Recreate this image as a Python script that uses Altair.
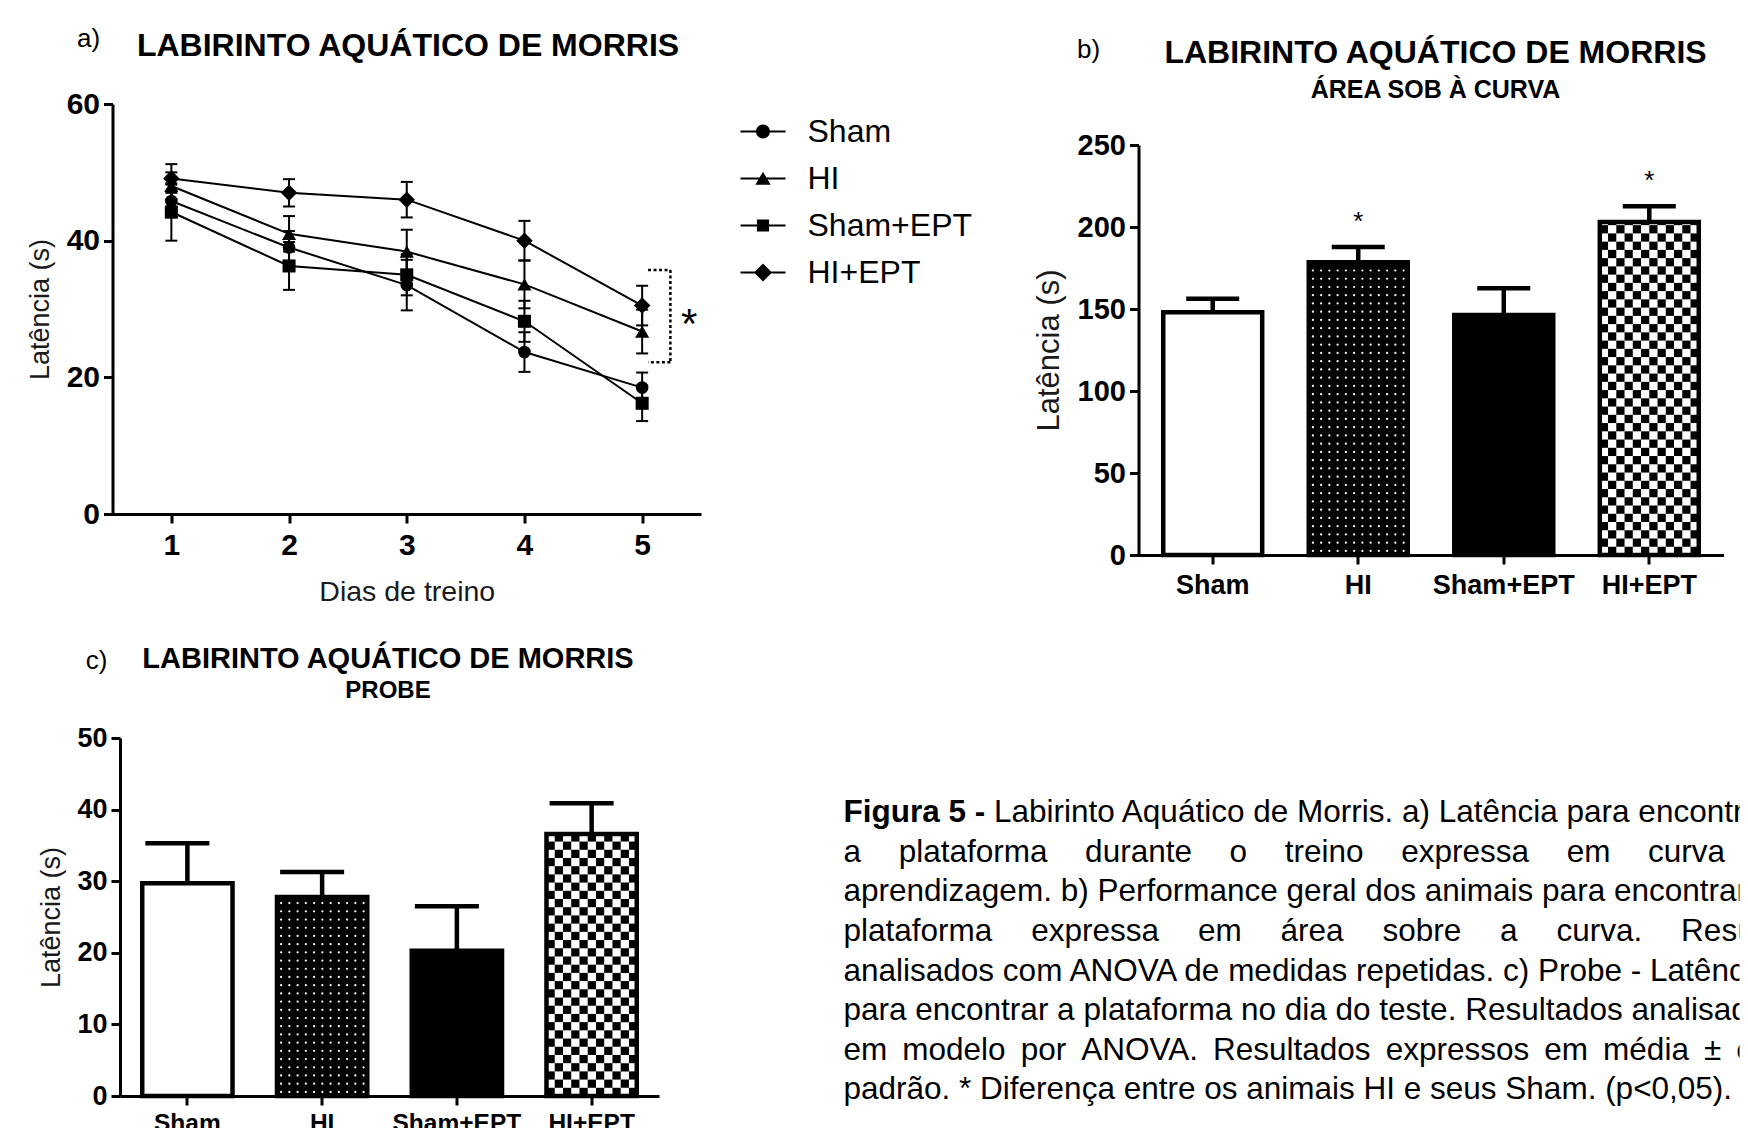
import math
import altair as alt
import pandas as pd

FONT = "Liberation Sans"

# ---------------- data ----------------
groups = ["Sham", "HI", "Sham+EPT", "HI+EPT"]
days = [1, 2, 3, 4, 5]

# a) learning curve (mean, SEM per training day)
sham_mean = [45.8, 39.0, 33.5, 23.7, 18.5]
sham_sem = [2.4, 2.4, 3.7, 2.9, 2.2]
hi_mean = [48.0, 41.0, 38.4, 33.6, 26.7]
hi_sem = [2.0, 2.6, 3.2, 3.5, 3.2]
shamept_mean = [44.2, 36.3, 35.0, 28.2, 16.2]
shamept_sem = [4.2, 3.5, 3.0, 3.0, 2.6]
hiept_mean = [49.1, 47.0, 46.0, 40.0, 30.5]
hiept_sem = [2.1, 2.0, 2.6, 2.9, 2.9]

# significance bracket on day 5 (data units) and its star
bracket_x = [5.05, 5.24, 5.24]
bracket_x2 = [5.24, 5.24, 5.05]
bracket_y = [35.7, 35.7, 22.2]
bracket_y2 = [35.7, 22.2, 22.2]
star_a_x = [5.4]
star_a_y = [28.7]

# b) area under the curve
auc_mean = [148.0, 178.5, 146.4, 203.0]
auc_sem = [8.3, 9.3, 16.3, 9.6]
auc_star = ["", "*", "", "*"]

# c) probe
probe_mean = [29.7, 27.8, 20.3, 36.6]
probe_sem = [5.6, 3.5, 6.2, 4.3]
probe_star = ["", "", "", ""]

bar_fill = ["white", "black", "black", "white"]
bar_pattern = ["none", "dots", "none", "checker"]

panel_letters = ["a)", "b)", "c)"]

NB = "\u00a0"
TH = "\u2009"
HA = "\u200a"
caption_bold = "Figura 5 -"
caption_first = "Labirinto Aquático de Morris. a) Latência para encontrar"
caption_words = [
    "a plataforma durante o treino expressa em curva de",
    "aprendizagem. b) Performance geral dos animais para encontrar a",
    "plataforma expressa em área sobre a curva. Resultados",
    "analisados com ANOVA de medidas repetidas. c) Probe - Latência",
    "para encontrar a plataforma no dia do teste. Resultados analisados",
    "em modelo por ANOVA. Resultados expressos em média ± erro",
    "padrão. * Diferença entre os animais HI e seus Sham. (p<0,05).",
]
caption_gaps = [NB * 4 + HA, " ", NB * 3 + TH * 2, " ", " ", NB + TH, " "]

# ---------------- geometry ----------------
A_W, A_H = 588.5, 410
B_W, B_H, B_X0, B_Y0 = 880, 451, 295, 41
C_W, C_H, C_X0 = 546.5, 358, 7.5
CAP_W, CAP_H = 896, 382
COL_SP, ROW_SP = 142, 183
# panel letters, placed relative to the caption cell (which has no title)
letter_px = [(-755, -699), (245, -688), (-747, -77)]

ax_style = dict(
    domainColor="black", domainWidth=3, tickColor="black", tickWidth=3, tickSize=9,
    labelColor="black", labelFont=FONT, labelFontWeight="bold",
    titleFont=FONT, titleFontWeight="normal", titleColor="#1a1a1a", grid=False,
)

# ---------------- panel a ----------------
recs = []
for g, m, s in zip(groups, [sham_mean, hi_mean, shamept_mean, hiept_mean],
                   [sham_sem, hi_sem, shamept_sem, hiept_sem]):
    for d, mv, sv in zip(days, m, s):
        recs.append({"group": g, "day": d, "mean": mv, "lo": mv - sv, "hi": mv + sv})
df_a = pd.DataFrame(recs)

a_xaxis = alt.Axis(values=days, format="d", title="Dias de treino", labelFontSize=30,
                   labelPadding=7, titleFontSize=28.5, titleX=A_W / 2, titleY=77,
                   titleBaseline="middle", titleAlign="center", **ax_style)
a_yaxis = alt.Axis(values=[0, 20, 40, 60], title="Latência (s)", labelFontSize=30,
                   labelPadding=4, titleFontSize=27, titleX=-72.5, titleY=A_H / 2,
                   titleAngle=270, titleBaseline="middle", titleAlign="center", **ax_style)
a_xs = alt.Scale(domain=[0.5, 5.5], nice=False, zero=False)
a_ys = alt.Scale(domain=[0, 60], nice=False)


def ax(f):
    return alt.X(f, type="quantitative", scale=a_xs, axis=a_xaxis)


def ay(f):
    return alt.Y(f, type="quantitative", scale=a_ys, axis=a_yaxis)


a_lines = alt.Chart(df_a).mark_line(color="black", strokeWidth=2).encode(
    x=ax("day"), y=ay("mean"), detail="group:N")
a_err = alt.Chart(df_a).mark_rule(color="black", strokeWidth=2).encode(
    x=ax("day"), y=ay("lo"), y2="hi:Q")
a_cap_lo = alt.Chart(df_a).mark_tick(orient="horizontal", size=12, thickness=2,
                                     color="black", opacity=1).encode(x=ax("day"), y=ay("lo"))
a_cap_hi = alt.Chart(df_a).mark_tick(orient="horizontal", size=12, thickness=2,
                                     color="black", opacity=1).encode(x=ax("day"), y=ay("hi"))

marker_shapes = ["circle", "triangle-up", "square", "diamond"]
marker_sizes = [160, 200, 170, 270]
a_markers = [
    alt.Chart(df_a).transform_filter(alt.datum.group == g).mark_point(
        shape=shp, filled=True, color="black", size=sz, opacity=1
    ).encode(x=ax("day"), y=ay("mean"))
    for g, shp, sz in zip(groups, marker_shapes, marker_sizes)
]

# legend glyphs: a thin filled bar (the line) plus the marker, all clockwise
LINE = "M-1,-0.045H1V0.045H-1Z"
legend_paths = [
    LINE + "M0.31,0A0.31,0.31,0,1,1,-0.31,0A0.31,0.31,0,1,1,0.31,0Z",
    LINE + "M0,-0.3L0.34,0.28L-0.34,0.28Z",
    LINE + "M-0.27,-0.27H0.27V0.27H-0.27Z",
    LINE + "M0,-0.4L0.4,0L0,0.4L-0.4,0Z",
]
a_legend = alt.Chart(pd.DataFrame({"group": groups})).mark_point(
    filled=True, color="black", opacity=1, clip=True
).encode(
    x=alt.value(-500), y=alt.value(-500),
    shape=alt.Shape("group:N", scale=alt.Scale(domain=groups, range=legend_paths),
                    legend=alt.Legend(title=None, orient="none", legendX=628, legendY=5,
                                      padding=0, rowPadding=8, labelOffset=22,
                                      symbolSize=2025, symbolStrokeWidth=0,
                                      symbolFillColor="black", symbolOpacity=1,
                                      labelFont=FONT, labelFontSize=32,
                                      labelColor="black", labelLimit=400)),
)

df_br = pd.DataFrame({"x": bracket_x, "x2": bracket_x2, "y": bracket_y, "y2": bracket_y2})
a_bracket = alt.Chart(df_br).mark_rule(color="black", strokeWidth=2.5, strokeDash=[3, 2.5]).encode(
    x=ax("x"), x2="x2:Q", y=ay("y"), y2="y2:Q")
a_star = alt.Chart(pd.DataFrame({"x": star_a_x, "y": star_a_y, "t": ["*"]})).mark_text(
    font=FONT, fontSize=42, baseline="alphabetic", dy=20, color="black"
).encode(x=ax("x"), y=ay("y"), text="t:N")

chart_a = alt.layer(
    a_lines, a_err, a_cap_lo, a_cap_hi, *a_markers, a_legend, a_bracket, a_star,
).properties(
    width=A_W, height=A_H,
    title=alt.TitleParams(text="LABIRINTO AQUÁTICO DE MORRIS", font=FONT, fontSize=32,
                          fontWeight="bold", color="black", anchor="middle", frame="group",
                          offset=26, dx=1.25),
)


# ---------------- bar panels ----------------
def band_bw(range_px, n, pi, po):
    step = range_px / (n - pi + 2 * po)
    return step * (1 - pi)


def pattern_frames(means, bw_px, ppu, n_cols):
    h = (bw_px / n_cols) / ppu
    dots, cells = [], []
    for g, v, p in zip(groups, means, bar_pattern):
        if p == "dots":
            r = 0
            while (r + 0.5) * h < v - 0.4 * h:
                for j in range(n_cols):
                    dots.append({"group": g, "col": j, "y": (r + 0.5) * h})
                r += 1
        elif p == "checker":
            nrows = math.ceil(v / h)
            for r in range(nrows):
                for j in range(n_cols):
                    if (r + j + nrows) % 2 == 0:
                        cells.append({"group": g, "col": j, "y": r * h,
                                      "y2": min((r + 1) * h, v)})
    return pd.DataFrame(dots), pd.DataFrame(cells)


def bar_panel(means, sems, stars, *, width, height, x0, y_top, pi, po, ymax, yvals,
              n_cols, cap_w, cap_dx, stroke_w, label_fs, label_pad, tick_fs, ytitle_fs,
              ytitle_x, title_fs, sub_fs, subtitle, title_offset, sub_pad, title_dx,
              star_fs, star_dy):
    plot_w = width - x0
    plot_h = height - y_top
    bw = band_bw(plot_w, 4, pi, po)
    ppu = plot_h / ymax
    df = pd.DataFrame({"group": groups, "value": means,
                       "top": [m + s for m, s in zip(means, sems)],
                       "star": stars, "fill": bar_fill})
    dots, cells = pattern_frames(means, bw, ppu, n_cols)
    xs = alt.Scale(domain=groups, range=[x0, width], paddingInner=pi, paddingOuter=po)
    ys = alt.Scale(domain=[0, ymax], range=[height, y_top], nice=False, zero=True)
    xaxis = alt.Axis(title=None, labelAngle=0, labelFontSize=label_fs, labelPadding=label_pad,
                     **ax_style)
    yaxis = alt.Axis(values=yvals, offset=-x0, title="Latência (s)", labelFontSize=tick_fs,
                     labelPadding=4, titleFontSize=ytitle_fs, titleX=ytitle_x,
                     titleY=y_top + plot_h / 2, titleAngle=270, titleBaseline="middle",
                     titleAlign="center", **ax_style)
    X = alt.X("group:N", sort=groups, scale=xs, axis=xaxis)

    def Y(f):
        return alt.Y(f, type="quantitative", scale=ys, axis=yaxis)

    xoff = alt.XOffset("col:O", scale=alt.Scale(domain=list(range(n_cols)),
                                                paddingInner=0, paddingOuter=0))
    layers = [alt.Chart(df).mark_bar(strokeWidth=0).encode(
        x=X, y=Y("value"), fill=alt.Fill("fill:N", scale=None))]
    if len(cells):
        layers.append(alt.Chart(cells).mark_bar(color="black", strokeWidth=0).encode(
            x=X, xOffset=xoff, y=Y("y"), y2="y2:Q"))
    if len(dots):
        layers.append(alt.Chart(dots).mark_circle(size=5, color="white", opacity=1).encode(
            x=X, xOffset=xoff, y=Y("y")))
    layers.append(alt.Chart(df).mark_bar(fillOpacity=0, stroke="black",
                                         strokeWidth=stroke_w).encode(x=X, y=Y("value")))
    layers.append(alt.Chart(df).mark_rule(color="black", strokeWidth=stroke_w).encode(
        x=X, y=Y("value"), y2="top:Q"))
    layers.append(alt.Chart(df).mark_tick(size=cap_w, thickness=stroke_w, color="black",
                                          opacity=1, xOffset=cap_dx).encode(x=X, y=Y("top")))
    layers.append(alt.Chart(df).mark_text(font=FONT, fontSize=star_fs, baseline="alphabetic",
                                          dy=star_dy, color="black").encode(
        x=X, y=Y("top"), text="star:N"))
    return alt.layer(*layers).properties(
        width=width, height=height,
        title=alt.TitleParams(text="LABIRINTO AQUÁTICO DE MORRIS", subtitle=subtitle,
                              font=FONT, subtitleFont=FONT, fontSize=title_fs,
                              subtitleFontSize=sub_fs, fontWeight="bold",
                              subtitleFontWeight="bold", color="black",
                              subtitleColor="black", anchor="middle", frame="group",
                              offset=title_offset, subtitlePadding=sub_pad, dx=title_dx),
    )


chart_b = bar_panel(
    auc_mean, auc_sem, auc_star, width=B_W, height=B_H, x0=B_X0, y_top=B_Y0,
    pi=0.32, po=0.17, ymax=250, yvals=[0, 50, 100, 150, 200, 250], n_cols=12,
    cap_w=53, cap_dx=0, stroke_w=4.5, label_fs=27, label_pad=8.5, tick_fs=29,
    ytitle_fs=31, ytitle_x=-89, title_fs=32, sub_fs=25, subtitle="ÁREA SOB À CURVA",
    title_offset=0, sub_pad=8, title_dx=152, star_fs=26, star_dy=-17,
)

chart_c = bar_panel(
    probe_mean, probe_sem, probe_star, width=C_W, height=C_H, x0=C_X0, y_top=0,
    pi=0.33, po=0.165, ymax=50, yvals=[0, 10, 20, 30, 40, 50], n_cols=11,
    cap_w=64, cap_dx=-10, stroke_w=4.5, label_fs=24.5, label_pad=6, tick_fs=27,
    ytitle_fs=27, ytitle_x=-69, title_fs=29, sub_fs=24, subtitle="PROBE",
    title_offset=21, sub_pad=5, title_dx=2.25, star_fs=26, star_dy=-17,
)

# ---------------- caption (+ panel letters) ----------------
cap_lines = []
for i, (txt, gap) in enumerate(zip(caption_words, caption_gaps), start=1):
    cap_lines.append({"idx": i, "text": gap.join(txt.split(" "))})
df_cap = pd.DataFrame(cap_lines)
cap_y = alt.Y("idx:Q", scale=alt.Scale(domain=[0, 7], range=[75.3, 352.3]), axis=None)
cap_style = dict(font=FONT, fontSize=31.5, align="left", baseline="middle", color="black",
                 clip=True)
cap_body = alt.Chart(df_cap).mark_text(**cap_style).encode(
    x=alt.value(0), y=cap_y, text="text:N")
cap_head_b = alt.Chart(pd.DataFrame({"idx": [0], "text": [caption_bold]})).mark_text(
    fontWeight="bold", **cap_style).encode(x=alt.value(0), y=cap_y, text="text:N")
cap_head_r = alt.Chart(pd.DataFrame({"idx": [0], "text": [caption_first]})).mark_text(
    dx=150.5, **cap_style).encode(x=alt.value(0), y=cap_y, text="text:N")

letters = [
    alt.Chart(pd.DataFrame({"t": [lt]})).mark_text(
        font=FONT, fontSize=26, align="center", baseline="middle", color="black"
    ).encode(x=alt.value(lx), y=alt.value(ly), text="t:N")
    for lt, (lx, ly) in zip(panel_letters, letter_px)
]
chart_cap = alt.layer(cap_head_b, cap_head_r, cap_body, *letters).properties(
    width=CAP_W, height=CAP_H)

# ---------------- assemble ----------------
base = alt.concat(chart_a, chart_b, chart_c, chart_cap, columns=2,
                  spacing={"row": ROW_SP, "column": COL_SP}, bounds="flush")

try:
    chart = base.properties(padding={"left": 17.5, "top": 18, "right": 0, "bottom": -2},
                            background="white")
    chart.to_dict()
except Exception:
    chart = base.properties(padding={"left": 17.5, "top": 18, "right": 0, "bottom": 0},
                            background="white")

chart = chart.configure(font=FONT).configure_view(stroke=None)
chart.save("out.html", embed_options={"renderer": "svg", "actions": False})
